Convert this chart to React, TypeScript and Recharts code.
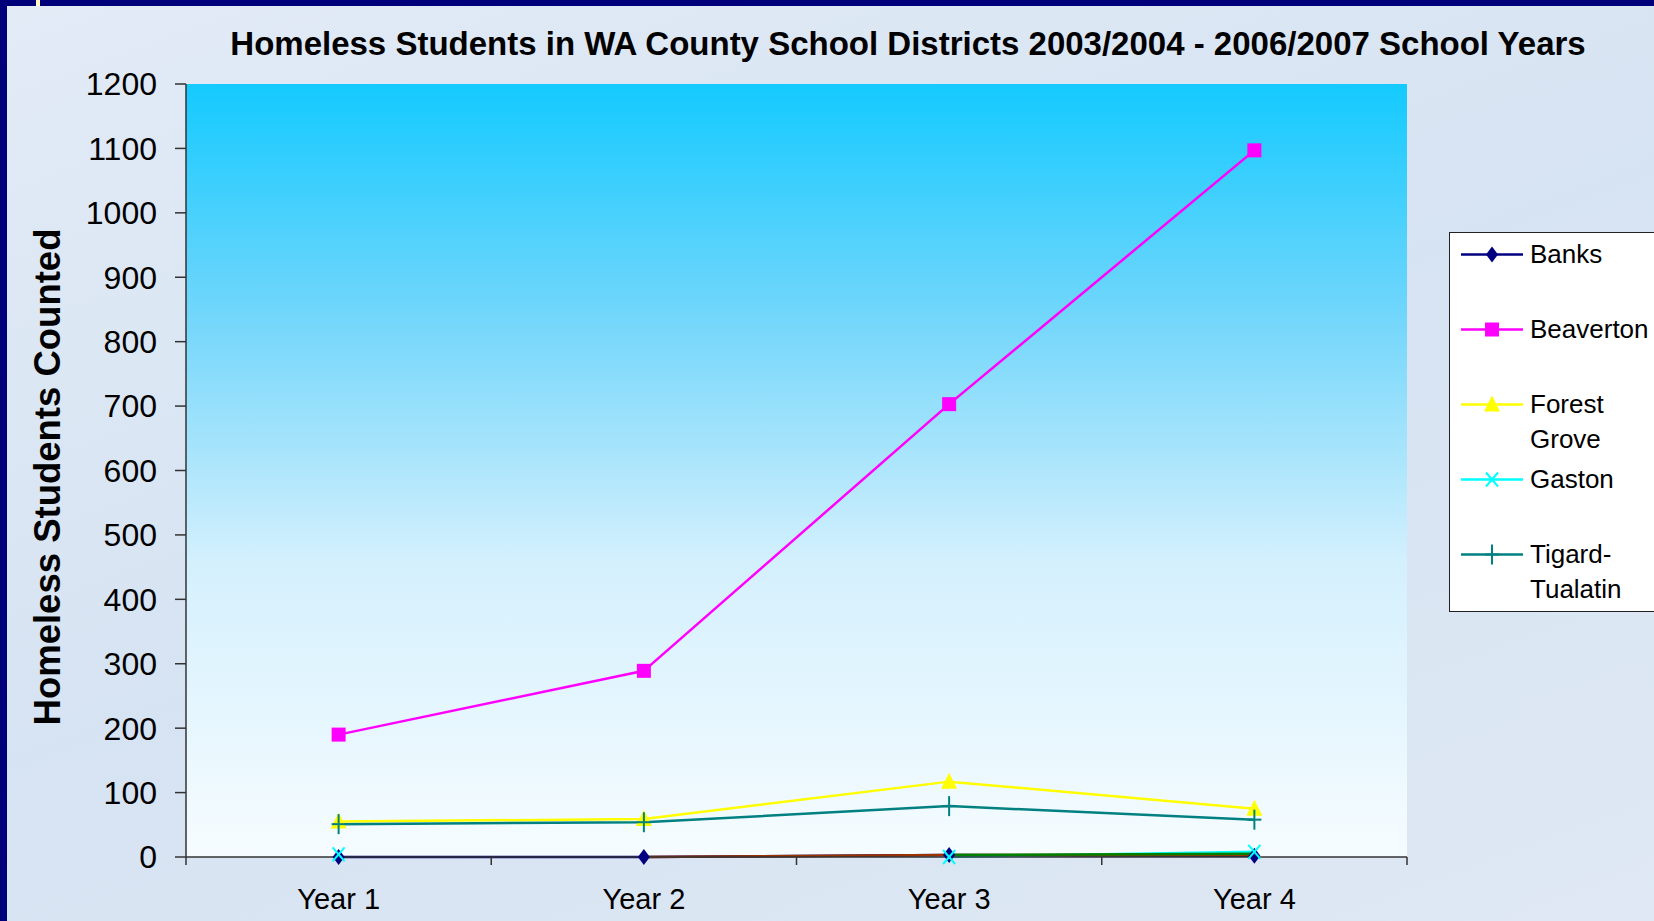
import { ReactElement } from 'react'
import { CartesianGrid, Line, LineChart, XAxis, YAxis } from 'recharts'

const years = ['Year 1', 'Year 2', 'Year 3', 'Year 4']
const banks = [0, 0, 3, 2]
const beaverton = [190, 289, 703, 1097]
const forestGrove = [55, 59, 117, 75]
const gaston = [4, null, 0, 8]
const tigardTualatin = [51, 54, 79, 58]
// two unlabelled series hugging the zero line (legend is cut off in the original)
const seriesSix = [null, 0, 3, 3]
const seriesSeven = [null, null, 3, 5]
const yTicks = [0, 100, 200, 300, 400, 500, 600, 700, 800, 900, 1000, 1100, 1200]

const FONT = '"Liberation Sans", Arial, sans-serif'

type MarkerKind = 'diamond' | 'square' | 'triangle' | 'x' | 'plus' | 'none'

const series: { key: string; name: string; color: string; marker: MarkerKind; legend: boolean }[] = [
  { key: 'banks', name: 'Banks', color: '#000080', marker: 'diamond', legend: true },
  { key: 'beaverton', name: 'Beaverton', color: '#FF00FF', marker: 'square', legend: true },
  { key: 'forestGrove', name: 'Forest Grove', color: '#FFFF00', marker: 'triangle', legend: true },
  { key: 'gaston', name: 'Gaston', color: '#00FFFF', marker: 'x', legend: true },
  { key: 'tigardTualatin', name: 'Tigard-Tualatin', color: '#008080', marker: 'plus', legend: true },
  { key: 'seriesSix', name: 'Series 6', color: '#993300', marker: 'none', legend: false },
  { key: 'seriesSeven', name: 'Series 7', color: '#008000', marker: 'none', legend: false },
]

const data = years.map((year, i) => ({
  year,
  banks: banks[i],
  beaverton: beaverton[i],
  forestGrove: forestGrove[i],
  gaston: gaston[i],
  tigardTualatin: tigardTualatin[i],
  seriesSix: seriesSix[i],
  seriesSeven: seriesSeven[i],
}))

function Marker({ kind, cx, cy, color }: { kind: MarkerKind; cx: number; cy: number; color: string }) {
  if (kind === 'diamond')
    return <polygon points={`${cx},${cy - 8} ${cx + 6},${cy} ${cx},${cy + 8} ${cx - 6},${cy}`} fill={color} />
  if (kind === 'square') return <rect x={cx - 7} y={cy - 7} width={14} height={14} fill={color} />
  if (kind === 'triangle')
    return <polygon points={`${cx},${cy - 9} ${cx + 8},${cy + 7} ${cx - 8},${cy + 7}`} fill={color} />
  if (kind === 'x')
    return (
      <g stroke={color} strokeWidth={2}>
        <line x1={cx - 6} y1={cy - 7} x2={cx + 6} y2={cy + 7} />
        <line x1={cx - 6} y1={cy + 7} x2={cx + 6} y2={cy - 7} />
      </g>
    )
  if (kind === 'plus')
    return (
      <g stroke={color} strokeWidth={2}>
        <line x1={cx} y1={cy - 10} x2={cx} y2={cy + 10} />
        <line x1={cx - 7} y1={cy} x2={cx + 7} y2={cy} />
      </g>
    )
  return null
}

const makeDot = (kind: MarkerKind, color: string) => (props: any) => {
  const { cx, cy, index, value } = props
  if (kind === 'none' || cy == null || value == null) return <g key={`d-${index}`} />
  return (
    <g key={`d-${index}`}>
      <Marker kind={kind} cx={cx} cy={cy} color={color} />
    </g>
  )
}

function YearTick(props: any) {
  const { x, y, payload, index, width } = props
  const band = width / years.length
  return (
    <g>
      <line x1={x - band / 2} y1={y} x2={x - band / 2} y2={y + 8} stroke="#333" strokeWidth={1.5} />
      {index === years.length - 1 && (
        <line x1={x + band / 2} y1={y} x2={x + band / 2} y2={y + 8} stroke="#333" strokeWidth={1.5} />
      )}
      <text x={x} y={y + 42} dy="0.35em" textAnchor="middle" fontSize={29} fontFamily={FONT} fill="#000">
        {payload.value}
      </text>
    </g>
  )
}

export default function App(): ReactElement {
  return (
    <div style={{ position: 'absolute', top: 0, left: 0, width: 1654, height: 921, background: '#00007a', overflow: 'hidden' }}>
      <div style={{ position: 'absolute', left: 7, top: 6, right: 0, bottom: 0, background: 'linear-gradient(160deg, #e2ebf6 0%, #d6e3f2 50%, #dfe8f4 100%)' }} />
      <div style={{ position: 'absolute', left: 36, top: 0, width: 4, height: 6, background: '#fff8c0' }} />
      <div
        style={{
          position: 'absolute', left: 0, top: 26, width: 1816, textAlign: 'center',
          fontFamily: FONT, fontWeight: 'bold', fontSize: 33, lineHeight: '36px', color: '#000',
        }}
      >
        Homeless Students in WA County School Districts 2003/2004 - 2006/2007 School Years
      </div>
      <div
        style={{
          position: 'absolute', left: 48, top: 477, transform: 'translate(-50%, -50%) rotate(-90deg)',
          whiteSpace: 'nowrap', fontFamily: FONT, fontWeight: 'bold', fontSize: 36.5, color: '#000',
        }}
      >
        Homeless Students Counted
      </div>
      <div style={{ position: 'absolute', left: 0, top: 0 }}>
        <LineChart width={1654} height={921} data={data} margin={{ top: 84, right: 247, bottom: 0, left: 0 }}>
          <defs>
            <linearGradient id="plotBg" x1="0" y1="0" x2="0" y2="1">
              <stop offset="0%" stopColor="#14caff" />
              <stop offset="30%" stopColor="#72d6fb" />
              <stop offset="62%" stopColor="#d4f0fd" />
              <stop offset="100%" stopColor="#f6fcff" />
            </linearGradient>
          </defs>
          <CartesianGrid horizontal={false} vertical={false} fill="url(#plotBg)" fillOpacity={1} />
          <XAxis xAxisId="top" orientation="top" dataKey="year" scale="band" height={0} tick={false} tickLine={false} axisLine={{ stroke: '#808080', strokeWidth: 2 }} />
          <YAxis yAxisId="right" orientation="right" width={0} tick={false} tickLine={false} axisLine={{ stroke: '#808080', strokeWidth: 2 }} />
          <XAxis
            dataKey="year"
            scale="band"
            height={64}
            interval={0}
            tickSize={0}
            tickMargin={0}
            tickLine={false}
            axisLine={{ stroke: '#333', strokeWidth: 1.5 }}
            tick={<YearTick />}
          />
          <YAxis
            width={186}
            domain={[0, 1200]}
            ticks={yTicks}
            interval={0}
            tickSize={11}
            tickMargin={18}
            axisLine={{ stroke: '#333', strokeWidth: 1.5 }}
            tickLine={{ stroke: '#333', strokeWidth: 1.5 }}
            tick={{ fontSize: 32, fontFamily: FONT, fill: '#000' }}
          />
          {series.map((s) => (
            <Line
              key={s.key}
              dataKey={s.key}
              name={s.name}
              stroke={s.color}
              strokeWidth={2.5}
              dot={makeDot(s.marker, s.color)}
              activeDot={false}
              connectNulls={false}
              isAnimationActive={false}
            />
          ))}
        </LineChart>
      </div>
      <div
        style={{
          position: 'absolute', left: 1449, top: 232, width: 230, height: 380, boxSizing: 'border-box',
          background: '#ffffff', border: '1.5px solid #222', paddingTop: 4, fontFamily: FONT, fontSize: 26, color: '#000',
        }}
      >
        {series.filter((s) => s.legend).map((s) => (
          <div key={s.key} style={{ position: 'relative', height: 75 }}>
            <svg width={62} height={35} style={{ position: 'absolute', left: 11, top: 0 }}>
              <line x1={0} y1={17.5} x2={62} y2={17.5} stroke={s.color} strokeWidth={2.5} />
              <Marker kind={s.marker} cx={31} cy={17.5} color={s.color} />
            </svg>
            <div style={{ position: 'absolute', left: 80, top: 0, width: 125, lineHeight: '35px' }}>{s.name}</div>
          </div>
        ))}
      </div>
    </div>
  )
}
